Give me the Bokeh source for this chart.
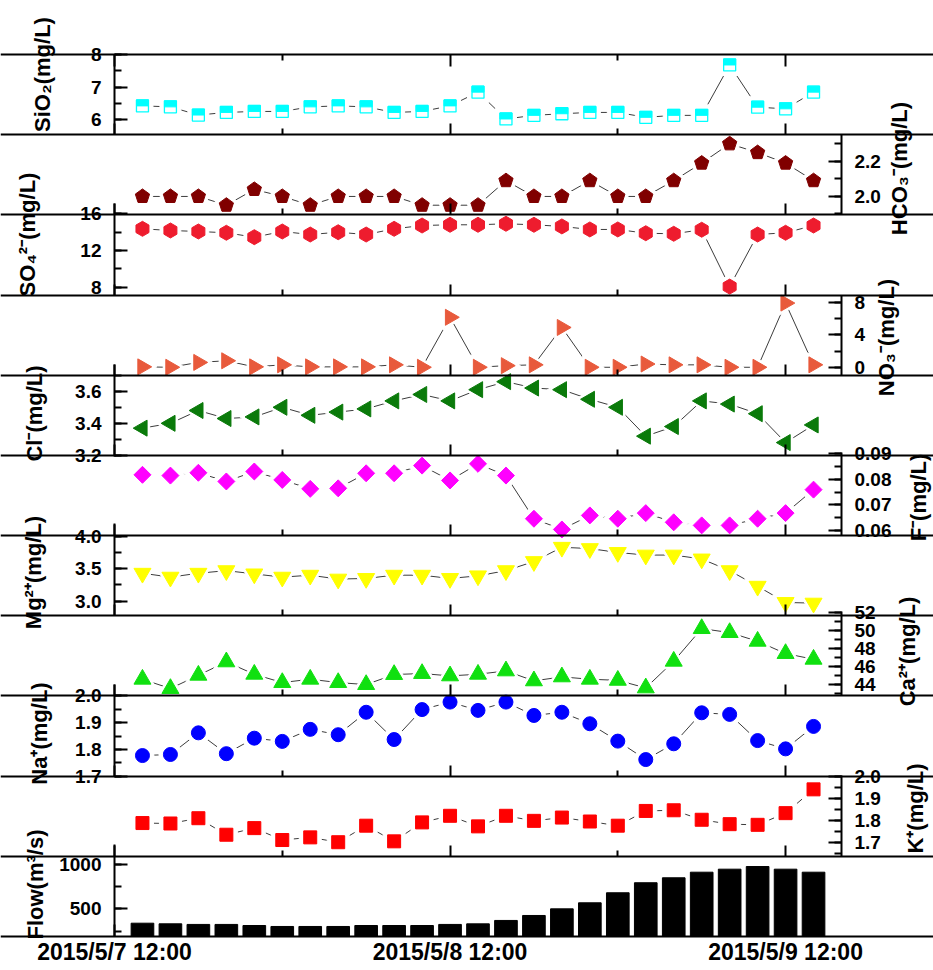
import math
import pandas as pd
from bokeh.plotting import figure
from bokeh.models import (ColumnDataSource, Range1d, LinearAxis, DatetimeAxis,
                          FixedTicker, SingleIntervalTicker, Label, PrintfTickFormatter)
from bokeh.transform import dodge
from bokeh.embed import file_html
from bokeh.resources import INLINE

# Two-hourly samples, 2015-05-07 14:00 .. 2015-05-09 14:00
times = pd.date_range("2015-05-07 14:00", "2015-05-09 14:00", freq="2h")

sio2 = [6.43, 6.40, 6.15, 6.23, 6.26, 6.26, 6.40, 6.43, 6.40, 6.23, 6.26, 6.43, 6.85,
        6.03, 6.14, 6.19, 6.23, 6.23, 6.08, 6.14, 6.14, 7.68, 6.39, 6.34, 6.85]
hco3 = [2.00, 2.00, 2.00, 1.95, 2.04, 2.00, 1.95, 2.00, 2.00, 2.00, 1.95, 1.95, 1.95,
        2.09, 2.00, 2.00, 2.09, 2.00, 2.00, 2.09, 2.19, 2.30, 2.25, 2.19, 2.09]
so4 = [14.36, 14.18, 14.07, 13.93, 13.45, 14.07, 13.74, 13.99, 13.74, 14.36, 14.72, 14.80, 14.80,
       14.91, 14.80, 14.62, 14.29, 14.29, 13.88, 13.82, 14.26, 8.07, 13.74, 13.93, 14.72]
no3 = [0.05, 0.0, 0.6, 0.8, 0.05, 0.3, 0.05, 0.05, 0.05, 0.3, 0.0, 6.15, 0.0,
       0.2, 0.3, 4.9, 0.0, 0.0, 0.4, 0.3, 0.3, 0.0, 0.0, 7.9, 0.3]
cl = [3.37, 3.40, 3.48, 3.43, 3.44, 3.50, 3.45, 3.47, 3.49, 3.54, 3.58, 3.54, 3.61,
      3.66, 3.62, 3.61, 3.55, 3.50, 3.32, 3.38, 3.54, 3.52, 3.46, 3.28, 3.39]
fluoride = [0.0818, 0.0815, 0.0826, 0.0792, 0.0831, 0.0798, 0.0763, 0.0765, 0.0824, 0.0824,
            0.0854, 0.0796, 0.0861, 0.0815, 0.0646, 0.0604, 0.0659, 0.0646, 0.0668, 0.0632,
            0.0620, 0.0620, 0.0646, 0.0668, 0.0760]
mg = [3.43, 3.37, 3.43, 3.47, 3.42, 3.37, 3.40, 3.34, 3.35, 3.40, 3.40, 3.35, 3.39,
      3.47, 3.61, 3.83, 3.81, 3.75, 3.71, 3.71, 3.65, 3.47, 3.23, 2.98, 2.97]
ca = [44.58, 43.55, 45.02, 46.50, 45.13, 44.21, 44.58, 44.21, 43.99, 45.10, 45.21, 44.95, 45.13,
      45.50, 44.40, 44.84, 44.58, 44.46, 43.62, 46.57, 50.18, 49.74, 48.78, 47.42, 46.79]
na = [1.777, 1.781, 1.862, 1.784, 1.842, 1.830, 1.875, 1.855, 1.939, 1.837, 1.949, 1.977, 1.946,
      1.977, 1.927, 1.939, 1.896, 1.831, 1.762, 1.821, 1.937, 1.931, 1.833, 1.802, 1.886]
k_ion = [1.787, 1.785, 1.809, 1.734, 1.764, 1.710, 1.722, 1.700, 1.775, 1.704, 1.790, 1.820, 1.772,
         1.820, 1.797, 1.812, 1.794, 1.775, 1.842, 1.845, 1.802, 1.782, 1.779, 1.832, 1.940]
flow = [338, 331, 324, 324, 312, 301, 301, 301, 312, 312, 312, 324, 331,
        369, 425, 500, 568, 681, 794, 850, 913, 947, 977, 947, 913]

# Time axis: labelled ticks at noon, short ticks at midnight
tick_times = ["2015-05-07 12:00", "2015-05-08 12:00", "2015-05-09 12:00"]
tick_labels = ["2015/5/7 12:00", "2015/5/8 12:00", "2015/5/9 12:00"]
minor_tick_times = ["2015-05-08 00:00", "2015-05-09 00:00"]
x_start, x_end = "2015-05-07 12:00", "2015-05-09 16:00"

# Stacked panels, top to bottom:
# key, axis title, side, value at panel bottom, value at panel top, axis bounds,
# tick interval, tick label format
panels = [
    ("sio2", "SiO\u2082(mg/L)", "left", 5.55, 8.0, (5.55, 8.001), 1, "%.0f"),
    ("hco3", "HCO\u2083\u207b(mg/L)", "right", 1.895, 2.352, (1.895, 2.352), 0.2, "%.1f"),
    ("so4", "SO\u2084\u00b2\u207b(mg/L)", "left", 7.15, 15.88, (7.15, 17.12), 4, "%.0f"),
    ("no3", "NO\u2083\u207b(mg/L)", "right", -0.98, 8.89, (-0.98, 8.89), 4, "%.0f"),
    ("cl", "Cl\u207b(mg/L)", "left", 3.2, 3.70, (3.195, 3.766), 0.2, "%.1f"),
    ("f", "F\u207b(mg/L)", "right", 0.058, 0.0894, (0.058, 0.0906), 0.01, "%.2f"),
    ("mg", "Mg\u00b2\u207a(mg/L)", "left", 2.775, 4.01, (2.775, 4.195), 0.5, "%.1f"),
    ("ca", "Ca\u00b2\u207a(mg/L)", "right", 42.73, 51.6, (42.73, 52.05), 2, "%.0f"),
    ("na", "Na\u207a(mg/L)", "left", 1.70, 2.0, (1.698, 2.043), 0.1, "%.1f"),
    ("k", "K\u207a(mg/L)", "right", 1.636, 2.0, (1.636, 2.003), 0.1, "%.1f"),
    ("flow", "Flow(m\u00b3/s)", "left", 188, 1092, (188, 1225), 500, "%.0f"),
]
# axis title placement on the canvas: centre of the text line (x), centre along it (y)
title_pos = [(42, 74), (899, 168), (27, 234), (886, 337), (34, 413), (918, 497),
             (33, 572), (907, 651), (39, 733), (915, 808), (35, 884)]

# marker styles: key -> (marker, size, angle, colour)
styles = {
    "so4": ("hex", 15, math.pi / 2, "#EE1C2E"),
    "no3": ("triangle", 16, -math.pi / 2, "#E85A3C"),
    "cl": ("triangle", 16, math.pi / 2, "#0A7A0A"),
    "f": ("square", 12, math.pi / 4, "#FF00FF"),
    "mg": ("inverted_triangle", 17, 0.0, "#FFFF00"),
    "ca": ("triangle", 17, 0.0, "#10E010"),
    "na": ("circle", 14, 0.0, "#0000FF"),
    "k": ("square", 13, 0.0, "#FF0000"),
}
SIO2_COLOR = "#00FFFF"
HCO3_COLOR = "#800000"
LINE_COLOR = "#3C3C3C"
FONT = "Liberation Sans"

# canvas and the stacked plotting area inside it
W, H = 933, 970
LEFT, RIGHT, TOP, BOTTOM = 114, 92, 54, 34
AREA_W, AREA_H = W - LEFT - RIGHT, H - TOP - BOTTOM
N = len(panels)
PANEL_H = AREA_H / N


def ms(s):
    return pd.Timestamp(s).value / 1e6


X0, X1 = ms(x_start), ms(x_end)
MS_PER_PX = (X1 - X0) / AREA_W
BAR_W = 1.62 * 3600 * 1000

# panel units: panel i occupies [N-1-i, N-i]; the margins are part of the same frame
Y_LO, Y_HI = -BOTTOM / PANEL_H, N + TOP / PANEL_H

src = ColumnDataSource(dict(t=times, sio2=sio2, hco3=hco3, so4=so4, no3=no3, cl=cl,
                            f=fluoride, mg=mg, ca=ca, na=na, k=k_ion, flow=flow))

p = figure(frame_width=W, frame_height=H,
           x_range=Range1d(X0 - LEFT * MS_PER_PX, X1 + RIGHT * MS_PER_PX),
           y_range=Range1d(Y_LO, Y_HI),
           x_axis_location=None, y_axis_location=None,
           output_backend="svg", toolbar_location=None,
           min_border=0, min_border_left=0, min_border_right=0,
           min_border_top=0, min_border_bottom=0,
           outline_line_color=None, background_fill_color="white",
           border_fill_color="white")
p.grid.visible = False

# each series gets its own range, scaled so that it fills one horizontal band
ranges = {}
for i, (key, _, _, lo, hi, _, _, _) in enumerate(panels):
    span = hi - lo
    base = N - 1 - i
    ranges[key] = Range1d(lo + (Y_LO - base) * span, lo + (Y_HI - base) * span)
p.extra_y_ranges = ranges


def style_axis(ax, tick_in=12, minor_in=6):
    ax.axis_line_width = 2
    ax.axis_line_color = "black"
    ax.major_tick_line_width = 2
    ax.minor_tick_line_width = 2
    ax.major_tick_in = tick_in
    ax.major_tick_out = 0
    ax.minor_tick_in = minor_in
    ax.minor_tick_out = 0
    ax.major_label_text_font = FONT
    ax.major_label_text_font_style = "bold"
    ax.major_label_text_font_size = "19px"
    ax.major_label_text_color = "black"


x_ticker = FixedTicker(ticks=[ms(t) for t in tick_times],
                       minor_ticks=[ms(t) for t in minor_tick_times])

# flow bars
p.vbar(x="t", top="flow", bottom=panels[-1][3], width=BAR_W, source=src,
       y_range_name="flow", fill_color="black", line_color="black")

# connecting lines
for key in ["sio2", "hco3", "so4", "no3", "cl", "f", "mg", "ca", "na", "k"]:
    p.line("t", key, source=src, y_range_name=key, line_color=LINE_COLOR, line_width=1)

# white halos leave a small gap between line and marker
p.scatter("t", "sio2", source=src, y_range_name="sio2", marker="square", size=21,
          fill_color="white", line_color="white")
p.ngon(x="t", y="hco3", radius=12, radius_units="screen", n=5, source=src,
       y_range_name="hco3", fill_color="white", line_color="white")
for key, (mk, sz, ang, col) in styles.items():
    p.scatter("t", key, source=src, y_range_name=key, marker=mk, size=sz + 9, angle=ang,
              fill_color="white", line_color="white")

# markers
half = 3.0 * (panels[0][4] - panels[0][3]) / PANEL_H
p.scatter("t", "sio2", source=src, y_range_name="sio2", marker="square", size=12,
          fill_color="white", line_color=SIO2_COLOR, line_width=1.3)
p.rect(x="t", y=dodge("sio2", half), width=12, height=6, width_units="screen",
       height_units="screen", source=src, y_range_name="sio2",
       fill_color=SIO2_COLOR, line_color=SIO2_COLOR)
p.ngon(x="t", y="hco3", radius=7.5, radius_units="screen", n=5, source=src,
       y_range_name="hco3", fill_color=HCO3_COLOR, line_color=HCO3_COLOR)
for key, (mk, sz, ang, col) in styles.items():
    p.scatter("t", key, source=src, y_range_name=key, marker=mk, size=sz, angle=ang,
              fill_color=col, line_color=col)

# bottom time axis with labels
main_x = DatetimeAxis(fixed_location=0, ticker=x_ticker)
style_axis(main_x)
main_x.major_label_overrides = {ms(t): lab for t, lab in zip(tick_times, tick_labels)}
main_x.major_label_text_font_size = "23px"
main_x.major_label_standoff = 2
p.add_layout(main_x, "below")

# horizontal frame lines between panels, ticks pointing into the panel above
for b in range(1, N):
    ax = DatetimeAxis(fixed_location=b, ticker=x_ticker)
    style_axis(ax, tick_in=11, minor_in=6)
    ax.major_label_text_color = None
    p.add_layout(ax, "below")
top_ax = DatetimeAxis(fixed_location=N, ticker=x_ticker)
style_axis(top_ax, tick_in=12, minor_in=6)
top_ax.major_label_text_color = None
p.add_layout(top_ax, "above")

# one value axis per panel, alternating left and right
for (key, title, side, lo, hi, bounds, interval, fmt), (cx, cy) in zip(panels, title_pos):
    ax = LinearAxis(y_range_name=key, fixed_location=X0 if side == "left" else X1,
                    bounds=bounds,
                    ticker=SingleIntervalTicker(interval=interval, num_minor_ticks=2),
                    formatter=PrintfTickFormatter(format=fmt))
    style_axis(ax, tick_in=13, minor_in=7)
    ax.major_label_standoff = 13
    p.add_layout(ax, side)
    p.add_layout(Label(x=cx, y=H - cy, x_units="screen", y_units="screen",
                       text=title, angle=90, angle_units="deg", text_align="center",
                       text_baseline="middle", text_font=FONT, text_font_style="bold",
                       text_font_size="22px", text_color="black"))

open("out.html", "w").write(file_html(p, INLINE))
